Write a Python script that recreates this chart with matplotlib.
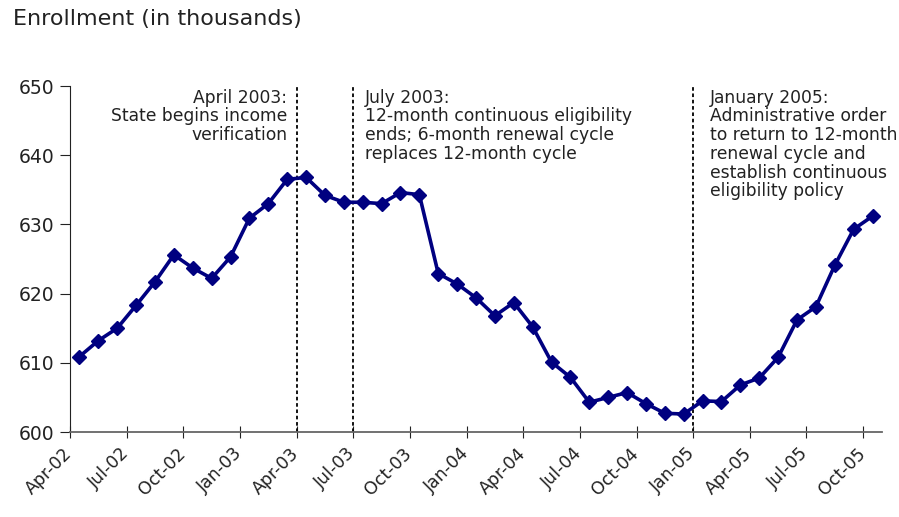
import matplotlib
matplotlib.use("Agg")
import matplotlib.pyplot as plt
from matplotlib.transforms import ScaledTranslation

months = ["Apr-02","May-02","Jun-02","Jul-02","Aug-02","Sep-02","Oct-02","Nov-02","Dec-02",
          "Jan-03","Feb-03","Mar-03","Apr-03","May-03","Jun-03","Jul-03","Aug-03","Sep-03",
          "Oct-03","Nov-03","Dec-03","Jan-04","Feb-04","Mar-04","Apr-04","May-04","Jun-04",
          "Jul-04","Aug-04","Sep-04","Oct-04","Nov-04","Dec-04","Jan-05","Feb-05","Mar-05",
          "Apr-05","May-05","Jun-05","Jul-05","Aug-05","Sep-05","Oct-05"]
enrollment = [610.9, 613.2, 615.0, 618.3, 621.7, 625.6, 623.7, 622.2, 625.3,
              630.9, 633.0, 636.5, 636.8, 634.2, 633.2, 633.2, 633.0, 634.6,
              634.3, 622.9, 621.4, 619.4, 616.8, 618.7, 615.2, 610.1, 607.9,
              604.3, 605.0, 605.7, 604.1, 602.7, 602.6, 604.5, 604.4, 606.8,
              607.8, 610.8, 616.2, 618.1, 624.1, 629.3, 631.2]
tick_labels = ["Apr-02","Jul-02","Oct-02","Jan-03","Apr-03","Jul-03","Oct-03","Jan-04",
               "Apr-04","Jul-04","Oct-04","Jan-05","Apr-05","Jul-05","Oct-05"]
events = ["Apr-03", "Jul-03", "Jan-05"]
event_texts = ["April 2003:\nState begins income\nverification",
               "July 2003:\n12-month continuous eligibility\nends; 6-month renewal cycle\nreplaces 12-month cycle",
               "January 2005:\nAdministrative order\nto return to 12-month\nrenewal cycle and\nestablish continuous\neligibility policy"]
yticks = [600, 610, 620, 630, 640, 650]

plt.rcParams['font.family'] = ['DejaVu Sans']
W, H = 899, 517
fig = plt.figure(figsize=(W/100, H/100), dpi=100)
ax = fig.add_axes([70/W, 1-432/H, (882-70)/W, (432-86)/H])

x = list(range(len(months)))
ax.plot(x, enrollment, color='#000080', lw=2.6, marker='D', markersize=7, zorder=3)

ax.set_xlim(-0.5, len(months)-0.5)
ax.set_ylim(600, 650)
ax.set_yticks(yticks)
ax.set_yticklabels([str(v) for v in yticks], fontsize=13.5)
tick_pos = [months.index(m) - 0.5 for m in tick_labels]
ax.set_xticks(tick_pos)
ax.set_xticklabels(tick_labels, rotation=45, ha='right', rotation_mode='anchor', fontsize=12.5)
ax.tick_params(axis='x', direction='inout', length=8, pad=5, colors='#222222')
ax.tick_params(axis='y', length=7, direction='out', pad=4, colors='#222222')
off = ScaledTranslation(-7/100, 0, fig.dpi_scale_trans)
for lab in ax.get_xticklabels():
    lab.set_transform(lab.get_transform() + off)

for s in ['top', 'right']:
    ax.spines[s].set_visible(False)
ax.spines['left'].set_color('#222222')
ax.spines['bottom'].set_color('#666666')
ax.spines['bottom'].set_linewidth(1.3)

for ev in events:
    ax.axvline(months.index(ev) - 0.5, color='black', ls=(0, (2, 1.5)), lw=1.3, zorder=2)

txt_kw = dict(fontsize=12.3, va='top', linespacing=1.05, color='#222222')
ax.text(months.index(events[0]) - 0.5 - 0.5, 649.6, event_texts[0], ha='right', **txt_kw)
ax.text(months.index(events[1]) - 0.5 + 0.6, 649.6, event_texts[1], ha='left', **txt_kw)
ax.text(months.index(events[2]) - 0.5 + 0.9, 649.6, event_texts[2], ha='left', **txt_kw)

fig.text(13/W, 1-19/H, "Enrollment (in thousands)", fontsize=16, va='center', ha='left', color='#222222')

fig.savefig("out.png", dpi=100)
